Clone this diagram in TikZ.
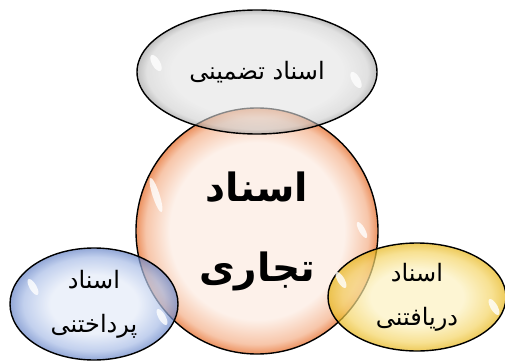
\documentclass[tikz,border=0pt]{standalone}
\usepackage{fontspec}
\newfontfamily\arabicfont[Script=Arabic]{DejaVu Sans}
\TeXXeTstate=1
\usetikzlibrary{shapes.geometric, positioning}

\definecolor{coreedge}{RGB}{236,145,95}
\definecolor{coremid}{RGB}{247,198,170}
\definecolor{corelight}{RGB}{253,241,234}
\definecolor{grayedge}{RGB}{150,150,150}
\definecolor{graymid}{RGB}{205,205,205}
\definecolor{graylight}{RGB}{226,226,226}
\definecolor{blueedge}{RGB}{100,130,198}
\definecolor{bluemid}{RGB}{168,188,230}
\definecolor{bluelight}{RGB}{228,235,248}
\definecolor{yellowedge}{RGB}{230,180,20}
\definecolor{yellowmid}{RGB}{244,212,100}
\definecolor{yellowlight}{RGB}{252,241,192}

%% radius 25bp is the rim of the node
\pgfdeclareradialshading{coreball}{\pgfpoint{0bp}{0bp}}{color(0bp)=(corelight); color(18bp)=(corelight); color(23bp)=(coremid); color(25bp)=(coreedge); color(50bp)=(coreedge)}
\pgfdeclareradialshading{grayball}{\pgfpoint{0bp}{0bp}}{color(0bp)=(graylight); color(18bp)=(graylight); color(23bp)=(graymid); color(25bp)=(grayedge); color(50bp)=(grayedge)}
\pgfdeclareradialshading{blueball}{\pgfpoint{0bp}{0bp}}{color(0bp)=(bluelight); color(13bp)=(bluelight); color(21bp)=(bluemid); color(25bp)=(blueedge); color(50bp)=(blueedge)}
\pgfdeclareradialshading{yellowball}{\pgfpoint{0bp}{0bp}}{color(0bp)=(yellowlight); color(13bp)=(yellowlight); color(21bp)=(yellowmid); color(25bp)=(yellowedge); color(50bp)=(yellowedge)}

\begin{document}
\begin{tikzpicture}[
  x=1pt, y=1pt,
  bubble/.style={ellipse, draw=black, line width=1.4pt, inner sep=0pt,
                 fill opacity=0.7, text opacity=1, align=center},
  mainfont/.style={font=\arabicfont\bfseries\fontsize{39}{80}\selectfont},
  subfont/.style={font=\arabicfont\fontsize{24}{44}\selectfont},
  shine/.style={fill=white, draw=none, opacity=0.8},
]
\useasboundingbox (0,0) rectangle (505,362);

%% Centre: commercial papers
\node[bubble, fill opacity=1, shading=coreball,
      minimum width=242pt, minimum height=246pt,
      mainfont] (tejari) at (257,131) {\beginR اسناد\endR\\\beginR تجاری\endR};

%% Top: guarantee papers
\node[bubble, fill opacity=0.6, shading=grayball, minimum width=240pt, minimum height=124pt,
      subfont] (tazmini) at (257,290) {\beginR اسناد تضمینی\endR};

%% Bottom left: payable papers
\node[bubble, shading=blueball, minimum width=168pt, minimum height=112pt,
      subfont] (pardakhtani) at (94,58) {\beginR اسناد\endR\\\beginR پرداختنی\endR};

%% Bottom right: receivable papers
\node[bubble, shading=yellowball, minimum width=178pt, minimum height=108pt,
      subfont] (daryaftani) at (417,65) {\beginR اسناد\endR\\\beginR دریافتنی\endR};

%% Highlights
\fill[shine, rotate around={-60:(156,299)}] (156,299) ellipse (9 and 4);
\fill[shine, rotate around={-60:(356,282)}] (356,282) ellipse (9 and 4);
\fill[shine, rotate around={-72:(156,167)}] (156,167) ellipse (18 and 3.5);
\fill[shine, rotate around={-60:(362,132)}] (362,132) ellipse (9 and 3);
\fill[shine, rotate around={-60:(33,75)}] (33,75) ellipse (9 and 3.5);
\fill[shine, rotate around={-60:(162,45)}] (162,45) ellipse (9 and 3.5);
\fill[shine, rotate around={-60:(341,82)}] (341,82) ellipse (9 and 3.5);
\fill[shine, rotate around={-60:(494,55)}] (494,55) ellipse (9 and 3.5);

\end{tikzpicture}
\end{document}
